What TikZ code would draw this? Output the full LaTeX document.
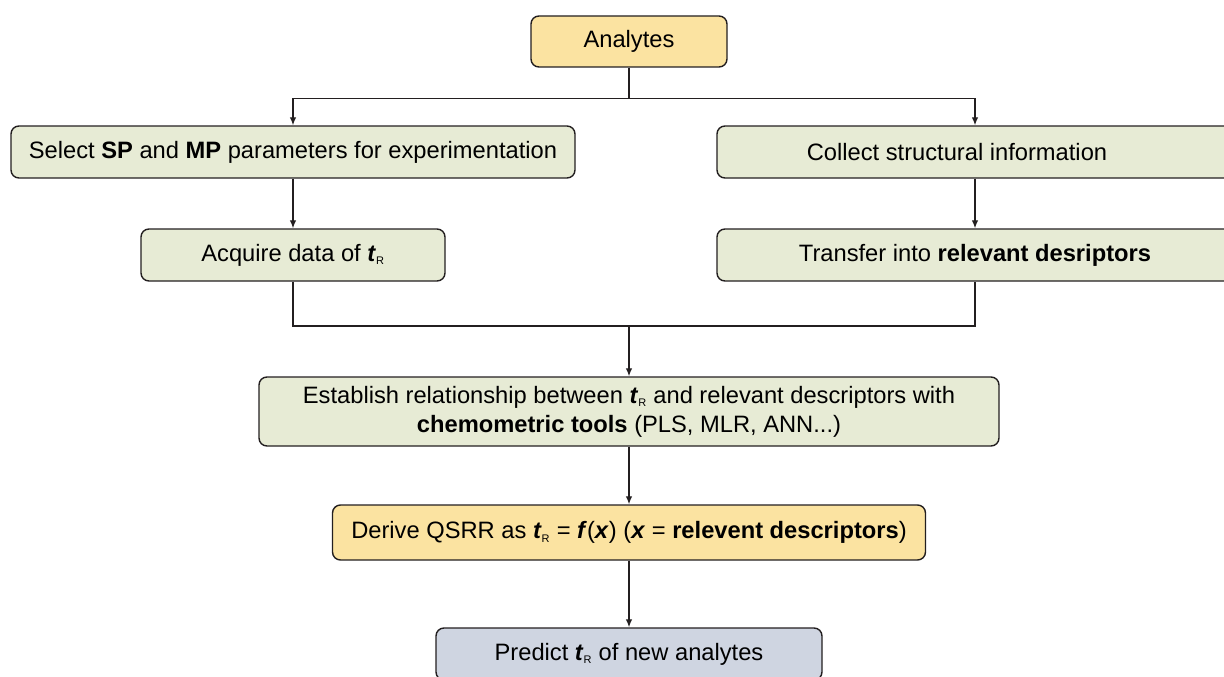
\documentclass[tikz,border=0pt]{standalone}
\usepackage{fontspec}
\setmainfont{Liberation Sans}
\usepackage{xcolor}
\usepackage{tikz}
\usetikzlibrary{arrows.meta}
\definecolor{boxgreen}{RGB}{231,235,213}
\definecolor{boxorange}{RGB}{251,227,161}
\definecolor{boxblue}{RGB}{207,213,225}
\definecolor{linegray}{RGB}{35,31,32}
\newcommand{\tR}{\textbf{\textit{t}}\textsubscript{\fontsize{11}{11}\selectfont R}}

\begin{document}
\begin{tikzpicture}[x=1pt,y=-1pt,
                font=\fontsize{23.7}{29}\selectfont,
                box/.style n args={3}{draw=linegray,fill=#1,
                    line width=1.4pt,
                    minimum width=#2pt,
                    minimum height=#3pt,
                    rounded corners=8pt,
                    align=center,
                    inner sep=0pt,
                    rectangle},
                arr/.style={draw=linegray,line width=1.3pt,
                    -{Latex[length=8pt,width=6.5pt]}},
                lin/.style={draw=linegray,line width=1.3pt}]
                \useasboundingbox (0,0) rectangle (1224,677);
                \node[box={boxorange}{196}{51}](n001) at (629, 41.5) {Analytes};
                \node[box={boxgreen}{564}{52}](n002) at (293, 152) {Select \textbf{SP} and \textbf{MP} parameters for experimentation};
                \node[box={boxgreen}{516}{52}](n003) at (975, 152) {\hspace*{-36pt}Collect structural information};
                \node[box={boxgreen}{304}{52}](n004) at (293, 255) {Acquire data of \tR};
                \node[box={boxgreen}{516}{52}](n005) at (975, 255) {Transfer into \textbf{relevant desriptors}};
                \node[box={boxgreen}{740}{69}](n006) at (629, 411.5) {Establish relationship between \tR{} and relevant descriptors with\\\textbf{chemometric tools} (PLS, MLR, ANN...)};
                \node[box={boxorange}{593}{55}](n007) at (629, 532.5) {Derive QSRR as \tR{} = \textbf{\textit{f}}(\textbf{\textit{x}}) (\textbf{\textit{x}} = \textbf{relevent descriptors})};
                \node[box={boxblue}{386}{52}](n008) at (629, 654) {Predict \tR{} of new analytes};
                \coordinate (m001) at (629, 326);
                \draw[arr] (n001.south) -- ++(0,31) -| (n002.north);
                \draw[arr] (n001.south) -- ++(0,31) -| (n003.north);
                \draw[arr] (n002.south) -- (n004.north);
                \draw[arr] (n003.south) -- (n005.north);
                \draw[lin] (n004.south) |- (m001) -| (n005.south);
                \draw[arr] (m001) -- (n006.north);
                \draw[arr] (n006.south) -- (n007.north);
                \draw[arr] (n007.south) -- (n008.north);
            \end{tikzpicture}
\end{document}
